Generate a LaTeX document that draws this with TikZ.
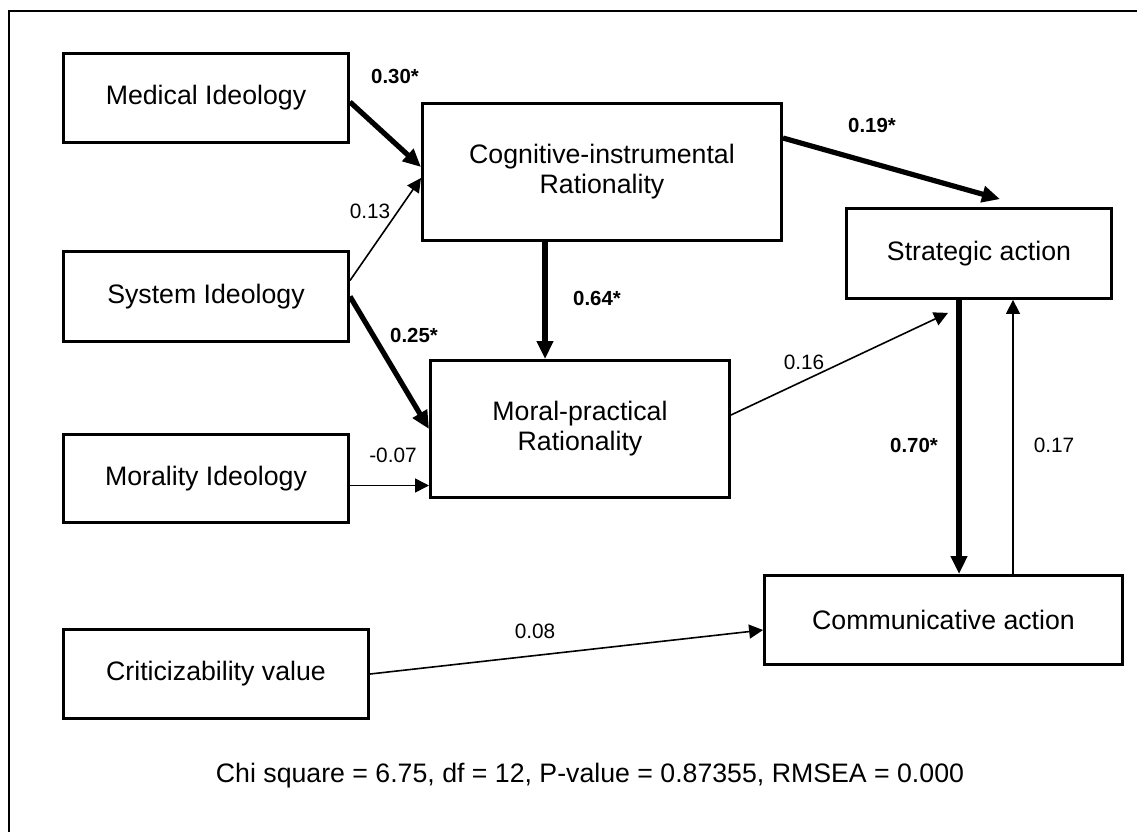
\documentclass[tikz,border=0pt]{standalone}
\usepackage{fontspec}
\setmainfont{Liberation Sans}
\usetikzlibrary{arrows.meta,calc}

\begin{document}
\begin{tikzpicture}
	[x=0.5pt,y=-0.5pt,
	box/.style={rectangle, draw=black, line width=1.4pt, align=center,
		font=\fontsize{13.35}{15}\selectfont, inner sep=0pt},
	lbl/.style={font=\fontsize{10.4}{12}\selectfont, inner sep=0pt},
	blbl/.style={font=\fontsize{10.2}{12}\selectfont\bfseries, inner sep=0pt},
	sig/.style={line width=2.6pt, -{Triangle[length=9pt,width=8pt]}},
	nsig/.style={line width=0.8pt, -{Triangle[length=7pt,width=7pt]}}]

	\useasboundingbox (0,0) rectangle (1137,832);
	\draw[line width=1pt] (9,832) -- (9,11) -- (1137,11);

	% exogenous variables
	\node[box, minimum width=142.6pt, minimum height=44.6pt] (med)  at (206,98)    {Medical Ideology};
	\node[box, minimum width=142.6pt, minimum height=45pt]   (sys)  at (206,296.5) {System Ideology};
	\node[box, minimum width=142.6pt, minimum height=44pt]   (mor)  at (206,478.5) {Morality Ideology};
	\node[box, minimum width=152.6pt, minimum height=44.6pt] (crit) at (216,674)   {Criticizability value};

	% rationality and action
	\node[box, minimum width=179.6pt, minimum height=68.6pt] (cog)   at (602,172)   {Cognitive-instrumental\\Rationality};
	\node[box, minimum width=149.6pt, minimum height=68.6pt] (moral) at (580,429)   {Moral-practical\\Rationality};
	\node[box, minimum width=132.6pt, minimum height=45pt]   (strat) at (979,253.5) {Strategic action};
	\node[box, minimum width=179pt,   minimum height=44.6pt] (comm)  at (943.5,620) {Communicative action};

	% paths
	\draw[sig]  ($(med.east)+(0,4)$) -- ($(cog.west)+(0,-5)$);
	\draw[nsig] ($(sys.east)+(0,-16)$) -- ($(cog.west)+(0,6)$);
	\draw[sig]  (sys.east) -- (moral.west);
	\draw[nsig] ($(mor.east)+(0,7)$) coordinate (m0) -- (moral.west |- m0);
	\draw[sig]  ($(cog.south)+(-57,0)$) coordinate (c0) -- (c0 |- moral.north);
	\draw[sig]  ($(cog.east)+(0,-34)$) -- ($(strat.north)+(21,-8)$);
	\draw[nsig] ($(moral.east)+(0,-14)$) -- ($(strat.south)+(-31,13)$);
	\draw[sig]  ($(strat.south)+(-20,0)$) coordinate (s0) -- (s0 |- comm.north);
	\draw[nsig] ($(comm.north)+(69.5,0)$) coordinate (k0) -- (k0 |- strat.south);
	\draw[nsig] (crit.east) -- ($(comm.west)+(0,10)$);

	% coefficients
	\node[blbl] (l30) at (395,76)  {0.30*};
	\node[lbl]  (l13) at (370,211) {0.13};
	\node[blbl] (l25) at (414,335) {0.25*};
	\node[lbl]  (l07) at (393,455) {-0.07};
	\node[blbl] (l64) at (597,298) {0.64*};
	\node[blbl] (l19) at (872,125) {0.19*};
	\node[lbl]  (l16) at (804,362) {0.16};
	\node[blbl] (l70) at (914,445) {0.70*};
	\node[lbl]  (l17) at (1054,445) {0.17};
	\node[lbl]  (l08) at (535,631) {0.08};

	\node[lbl, font=\fontsize{13.35}{15}\selectfont] (fit) at (590,776)
		{Chi square = 6.75, df = 12, P-value = 0.87355, RMSEA = 0.000};
\end{tikzpicture}
\end{document}
